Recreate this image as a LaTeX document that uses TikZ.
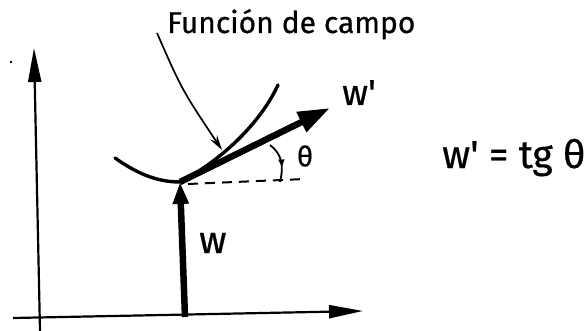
\documentclass[tikz,border=0pt]{standalone}
\usepackage{fontspec}
\setmainfont{Fira Sans}[FakeBold=0.6]
\usetikzlibrary{arrows.meta,decorations.markings}
\begin{document}
\begin{tikzpicture}[x=1pt,y=-1pt,
  axisline/.style={line width=2.2pt,-{Triangle[length=34pt,width=13pt]}},
  thickvec/.style={line width=6.5pt,-{Triangle[length=32pt,width=21pt]}},
  wvec/.style={line width=6.5pt,-{Triangle[length=22pt,width=15pt]}},
  curveline/.style={line width=3.4pt,line cap=round},
  leader/.style={line width=1.7pt,-{Stealth[length=15pt,width=8pt]}},
  hand/.style={inner sep=0pt,font=\fontsize{36pt}{38pt}\selectfont},
  anglearc/.style={line width=1.8pt,decoration={markings,mark=at position 0.62 with {\arrow{Triangle[length=7pt,width=6pt]}}},postaction={decorate}}]
\useasboundingbox (0,0) rectangle (588,331);
% axes
\coordinate (ybot) at (40,331);
\coordinate (ytop) at (34,48);
\coordinate (xleft) at (13,318);
\coordinate (xright) at (363,311);
\draw[axisline] (ybot) -- (ytop);
\draw[axisline] (xleft) -- (xright);
\fill (11,62) circle (1.3pt);
% points
\coordinate (wbase) at (185,317);
\coordinate (P) at (180,182);
\coordinate (wptip) at (330,108);
% field function curve
\coordinate (cl) at (115,158);
\coordinate (cr) at (278,85);
\draw[curveline] (cl) .. controls (135,172) and (155,182) .. (P) .. controls (215,164) and (258,128) .. (cr);
% vectors
\draw[wvec] (wbase) -- (P);
\draw[thickvec] (P) -- (wptip);
% dashed horizontal
\coordinate (dl) at (188,184);
\coordinate (dr) at (305,179);
\draw[line width=2pt,dash pattern=on 10pt off 7pt] (dl) -- (dr);
% angle arc
\coordinate (a1) at (270,145);
\coordinate (a2) at (280,182);
\draw[anglearc] (a1) .. controls (282,154) and (284,166) .. (a2);
% labels
\node[hand,font=\fontsize{30pt}{32pt}\selectfont,anchor=base west] (title) at (167,33) {Función de campo};
\coordinate (ls) at (157,33);
\coordinate (lt) at (222,150);
\draw[leader] (ls) .. controls (182,90) .. (lt);
\node[hand,font=\fontsize{28pt}{30pt}\selectfont] (theta) at (305,156) {θ};
\node[hand,anchor=base west] (wplabel) at (342,105) {w\textquotesingle};
\node[hand,font=\fontsize{38pt}{40pt}\selectfont,anchor=base west] (wlabel) at (199,253) {w};
\node[hand,font=\fontsize{39pt}{41pt}\selectfont,anchor=base west] (formula) at (442,168) {w\textquotesingle\ = tg θ};
\end{tikzpicture}
\end{document}
